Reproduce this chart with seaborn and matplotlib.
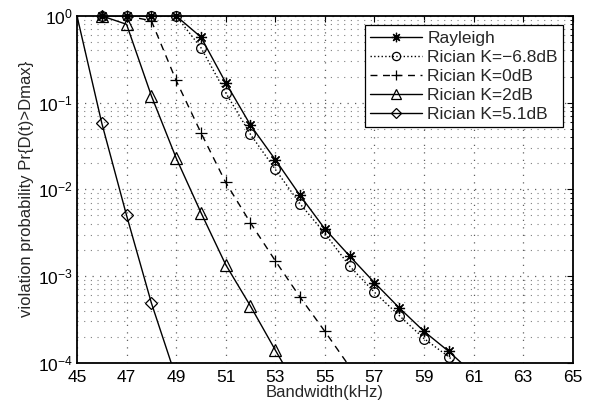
import matplotlib
matplotlib.use("Agg")
import matplotlib.pyplot as plt
from matplotlib.lines import Line2D
import seaborn as sns
import numpy as np
from matplotlib.ticker import LogLocator, NullFormatter, NullLocator

# ---- data ----
x_rayleigh = [46, 47, 48, 49, 50, 51, 52, 53, 54, 55, 56, 57, 58, 59, 60, 61]
y_rayleigh = [1, 1, 1, 1, 0.57, 0.17, 0.055, 0.022, 0.0085, 0.0035, 0.0017,
              8.4e-4, 4.3e-4, 2.3e-4, 1.35e-4, 7.4e-5]
x_k_m68 = [46, 47, 48, 49, 50, 51, 52, 53, 54, 55, 56, 57, 58, 59, 60, 61]
y_k_m68 = [1, 1, 1, 1, 0.43, 0.13, 0.043, 0.017, 0.0068, 0.0031, 0.0013,
           6.5e-4, 3.5e-4, 1.9e-4, 1.17e-4, 6.5e-5]
x_k_0 = [46, 47, 48, 49, 50, 51, 52, 53, 54, 55, 56]
y_k_0 = [1, 1, 0.88, 0.18, 0.045, 0.012, 0.0041, 0.0015, 5.7e-4, 2.3e-4, 9e-5]
x_k_2 = [46, 47, 48, 49, 50, 51, 52, 53, 54]
y_k_2 = [1, 0.8, 0.12, 0.023, 0.0054, 0.00135, 4.5e-4, 1.4e-4, 4.5e-5]
x_k_51 = [45, 46, 47, 48, 49]
y_k_51 = [1, 0.058, 0.005, 4.9e-4, 6.7e-5]

labels = ["Rayleigh", "Rician K=\u22126.8dB", "Rician K=0dB", "Rician K=2dB", "Rician K=5.1dB"]
xticks = [45, 47, 49, 51, 53, 55, 57, 59, 61, 63, 65]

sns.set_style("white")
plt.rcParams['font.family'] = ['Liberation Sans', 'DejaVu Sans']
plt.rcParams['mathtext.fontset'] = 'custom'
plt.rcParams['mathtext.rm'] = 'Liberation Sans'
plt.rcParams['mathtext.it'] = 'Liberation Sans'

fig = plt.figure(figsize=(5.95, 4.08), dpi=100)
ax = fig.add_axes([0.1294, 0.111, 0.8331, 0.850])

series = [
    (x_rayleigh, y_rayleigh, dict(marker=(8, 2, 0), ms=8, mfc="black", ls="-")),
    (x_k_m68, y_k_m68, dict(marker="o", ms=7, mfc="none", ls=":")),
    (x_k_0, y_k_0, dict(marker="+", ms=8, mfc="none", ls=(0, (5, 4)))),
    (x_k_2, y_k_2, dict(marker="^", ms=8, mfc="none", ls="-")),
    (x_k_51, y_k_51, dict(marker="D", ms=6, mfc="none", ls="-")),
]

handles = []
for (xs, ys, st), lab in zip(series, labels):
    # line (clipped to axes)
    sns.lineplot(x=xs, y=ys, color="black", linewidth=1.0, linestyle=st["ls"],
                 ax=ax, legend=False)
    # markers inside the axes range, drawn unclipped like the original
    xin = [a for a, b in zip(xs, ys) if 1e-4 <= b <= 1 and a > 45]
    yin = [b for a, b in zip(xs, ys) if 1e-4 <= b <= 1 and a > 45]
    sns.lineplot(x=xin, y=yin, color="black", linestyle="", marker=st["marker"],
                 markersize=st["ms"], markerfacecolor=st["mfc"],
                 markeredgecolor="black", markeredgewidth=0.9, ax=ax,
                 legend=False, clip_on=False, zorder=5)
    handles.append(Line2D([], [], color="black", linewidth=1.0, linestyle=st["ls"],
                          marker=st["marker"], markersize=st["ms"] * 0.85,
                          markerfacecolor=st["mfc"], markeredgecolor="black",
                          markeredgewidth=0.9))

ax.set_yscale("log")
ax.set_xlim(45, 65)
ax.set_ylim(1e-4, 1)
ax.set_xticks(xticks)
ax.set_xticklabels([str(t) for t in xticks])
ax.xaxis.set_minor_locator(NullLocator())
ax.yaxis.set_major_locator(LogLocator(base=10, numticks=10))
ax.yaxis.set_minor_locator(LogLocator(base=10, subs=np.arange(2, 10), numticks=20))
ax.yaxis.set_minor_formatter(NullFormatter())

ax.grid(True, which="major", linestyle=(0, (1, 5)), color="#606060", linewidth=0.9)
ax.grid(True, which="minor", axis="y", linestyle=(0, (1, 5)), color="#808080", linewidth=0.8)
ax.tick_params(which="both", direction="in", top=True, right=True, colors="black",
               labelsize=12.5)
ax.tick_params(which="major", length=4, width=0.8)
ax.tick_params(which="minor", length=2, width=0.6)
ax.tick_params(axis="x", which="major", pad=5)
ax.tick_params(axis="y", which="major", pad=3)
for s in ax.spines.values():
    s.set_color("black")
    s.set_linewidth(1.3)

ax.set_xlabel("Bandwidth(kHz)", fontsize=12, labelpad=0)
ax.set_ylabel("violation probability Pr{D(t)>Dmax}", fontsize=12, labelpad=3)

leg = ax.legend(handles, labels, loc="upper right", fontsize=12.5, frameon=True,
                fancybox=False, edgecolor="black", framealpha=1, handlelength=3.0,
                borderpad=0.3, labelspacing=0.22, handletextpad=0.3,
                borderaxespad=0.55)
leg.get_frame().set_linewidth(0.9)

fig.savefig("out.png", dpi=100)
